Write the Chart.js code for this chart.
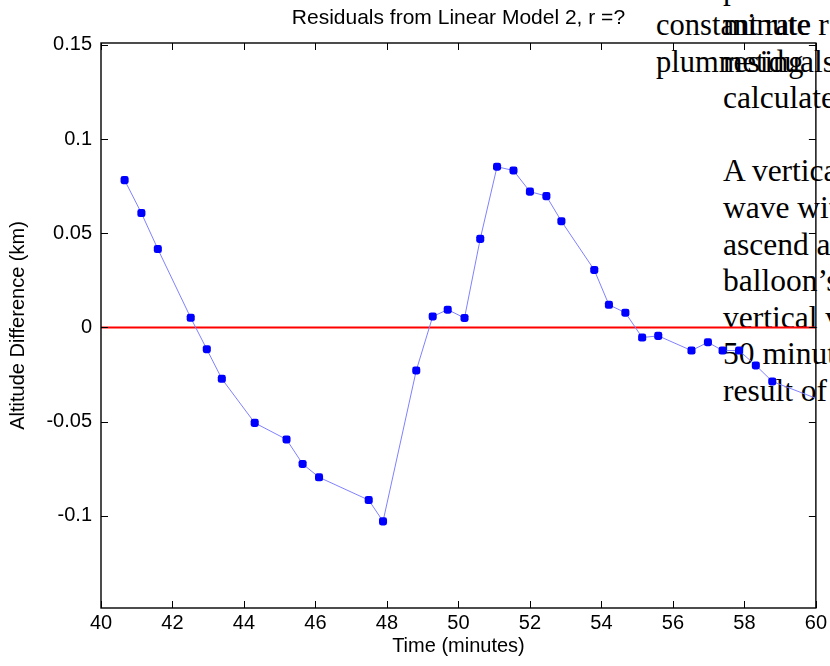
<!DOCTYPE html>
<html>
<head>
<meta charset="utf-8">
<script src="https://cdn.jsdelivr.net/npm/chart.js@4.4.0/dist/chart.umd.min.js"></script>
<style>
  html, body { margin: 0; padding: 0; background: #fff; }
  #wrap { position: relative; width: 830px; height: 666px; overflow: hidden; }
  .note {
    position: absolute; z-index: 1; color: #000; white-space: pre;
    font-family: "Liberation Serif", "Times New Roman", serif;
    line-height: 36.6px;
  }
  #noteA { left: 656px; top: 7.3px; font-size: 30.5px; }
  #noteB { left: 723px; top: -29.5px; font-size: 31.5px; }
  #chartBox { position: absolute; left: 0; top: 0; width: 830px; height: 666px; z-index: 2; }
</style>
</head>
<body>
<div id="wrap">
  <div class="note" id="noteA">constant rate
plummeting</div>
  <div class="note" id="noteB">passes through
minute r
residuals
calculate

A vertical
wave with
ascend and
balloon’s
vertical velocity
50 minutes
result of</div>
  <div id="chartBox"><canvas id="resChart"></canvas></div>
</div>
<script>
// ===== データ =====
const timeMin = [40.66, 41.13, 41.59, 42.51, 42.96, 43.38, 44.30, 45.19, 45.64, 46.10,
                 47.49, 47.89, 48.82, 49.28, 49.70, 50.17, 50.61, 51.08, 51.54, 52.00,
                 52.46, 52.88, 53.80, 54.21, 54.67, 55.14, 55.59, 56.52, 56.98, 57.39,
                 57.85, 58.32, 58.78, 60.20];
const residKm = [0.0782, 0.0607, 0.0416, 0.0051, -0.0116, -0.0273, -0.0507, -0.0595, -0.0725, -0.0796,
                 -0.0917, -0.1030, -0.0229, 0.0058, 0.0094, 0.0050, 0.0470, 0.0853, 0.0833, 0.0721,
                 0.0697, 0.0564, 0.0305, 0.0120, 0.0078, -0.0054, -0.0045, -0.0123, -0.0079, -0.0123,
                 -0.0123, -0.0202, -0.0287, -0.0391];
const zeroX = [40, 60];
const zeroY = [0, 0];
const xTicks = [40, 42, 44, 46, 48, 50, 52, 54, 56, 58, 60];
const yTicks = [-0.1, -0.05, 0, 0.05, 0.1, 0.15];

const SANS = '"Liberation Sans", Arial, Helvetica, sans-serif';

// ===== 枠・内向き目盛・タイトル =====
const frame = {
  id: 'frame',
  afterDraw(chart) {
    const { ctx, chartArea: a, scales: { x, y } } = chart;
    ctx.save();
    ctx.strokeStyle = '#000';
    ctx.lineWidth = 1;
    ctx.beginPath();
    xTicks.forEach(v => {
      const px = Math.round(x.getPixelForValue(v)) + 0.5;
      ctx.moveTo(px, a.bottom); ctx.lineTo(px, a.bottom - 7);
      ctx.moveTo(px, a.top); ctx.lineTo(px, a.top + 7);
    });
    yTicks.forEach(v => {
      const py = Math.round(y.getPixelForValue(v)) + 0.5;
      ctx.moveTo(a.left, py); ctx.lineTo(a.left + 7, py);
      ctx.moveTo(a.right, py); ctx.lineTo(a.right - 7, py);
    });
    ctx.stroke();
    ctx.lineWidth = 1.4;
    ctx.strokeRect(a.left, a.top, a.right - a.left, a.bottom - a.top);

    ctx.fillStyle = '#000';
    ctx.font = `21px ${SANS}`;
    ctx.textAlign = 'center';
    ctx.textBaseline = 'alphabetic';
    ctx.fillText('Residuals from Linear Model 2, r =?', (a.left + a.right) / 2, 24);
    ctx.restore();
  }
};

const ctx = document.getElementById('resChart').getContext('2d');
new Chart(ctx, {
  type: 'scatter',
  data: {
    datasets: [
      {
        label: 'residuals',
        data: timeMin.map((t, i) => ({ x: t, y: residKm[i] })),
        showLine: true,
        borderColor: '#8080ff',
        borderWidth: 1,
        pointStyle: 'rectRounded',
        pointRadius: 4.7,
        pointBackgroundColor: '#0000ff',
        pointBorderWidth: 0,
        clip: 0,
        order: 1,
      },
      {
        label: 'zero',
        data: zeroX.map((t, i) => ({ x: t, y: zeroY[i] })),
        showLine: true,
        borderColor: '#ff0000',
        borderWidth: 2,
        pointRadius: 0,
        clip: 0,
        order: 2,
      }
    ]
  },
  options: {
    responsive: true, maintainAspectRatio: false, animation: false,
    layout: { padding: { left: 0, right: 13, top: 43, bottom: 0 } },
    plugins: { legend: { display: false }, tooltip: { enabled: false } },
    scales: {
      x: {
        type: 'linear', min: 40, max: 60,
        afterBuildTicks: s => { s.ticks = xTicks.map(v => ({ value: v })); },
        afterFit: s => { s.height = 58; },
        grid: { display: false, drawTicks: false },
        border: { display: false },
        ticks: { color: '#000', font: { family: SANS, size: 20 }, padding: 3, maxRotation: 0, autoSkip: false },
        title: { display: true, text: 'Time (minutes)', color: '#000',
                 font: { family: SANS, size: 20 }, padding: { top: 0, bottom: 8 } }
      },
      y: {
        type: 'linear', min: -0.149, max: 0.151,
        afterBuildTicks: s => { s.ticks = yTicks.map(v => ({ value: v })); },
        afterFit: s => { s.width = 101; },
        grid: { display: false, drawTicks: false },
        border: { display: false },
        ticks: { color: '#000', font: { family: SANS, size: 20 }, padding: 9, autoSkip: false,
                 callback: v => String(Math.round(v * 100) / 100) },
        title: { display: true, text: 'Altitude Difference (km)', color: '#000',
                 font: { family: SANS, size: 20 }, padding: { top: 6, bottom: 0 } }
      }
    }
  },
  plugins: [frame]
});
</script>
</body>
</html>
